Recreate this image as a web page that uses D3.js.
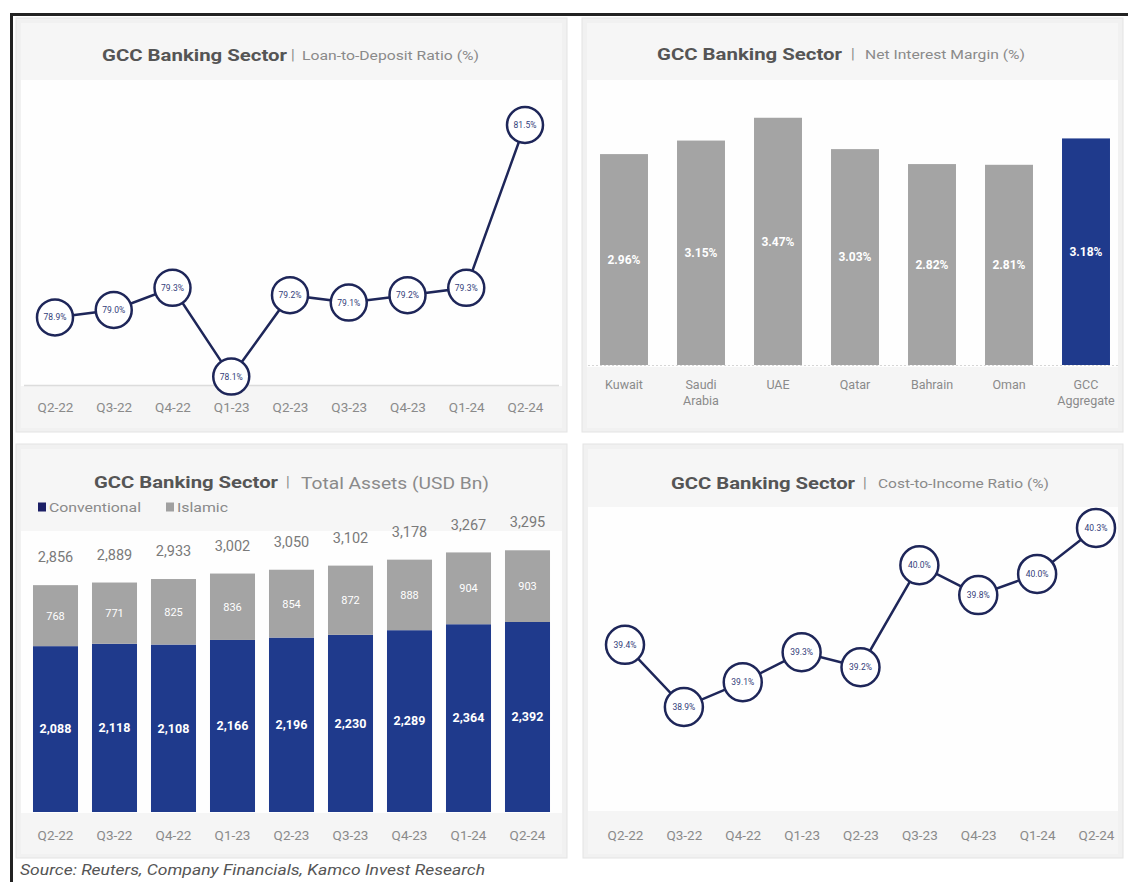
<!DOCTYPE html>
<html>
<head>
<meta charset="utf-8">
<script src="https://cdn.jsdelivr.net/npm/d3@7"></script>
<style>
  html, body { margin: 0; padding: 0; background: #fff; }
  svg { display: block; }
  text { font-family: Roboto, "Open Sans", sans-serif; }
</style>
</head>
<body>
<svg id="chart" width="1128" height="882"></svg>
<script>
// ---------------- DATA ----------------
const quarters = ["Q2-22","Q3-22","Q4-22","Q1-23","Q2-23","Q3-23","Q4-23","Q1-24","Q2-24"];
const loanToDeposit = [78.9, 79.0, 79.3, 78.1, 79.2, 79.1, 79.2, 79.3, 81.5];
const nimCountries = ["Kuwait","Saudi Arabia","UAE","Qatar","Bahrain","Oman","GCC Aggregate"];
const nimValues = [2.96, 3.15, 3.47, 3.03, 2.82, 2.81, 3.18];
const conventional = [2088, 2118, 2108, 2166, 2196, 2230, 2289, 2364, 2392];
const islamic = [768, 771, 825, 836, 854, 872, 888, 904, 903];
const totalAssets = [2856, 2889, 2933, 3002, 3050, 3102, 3178, 3267, 3295];
const costToIncome = [39.40, 38.90, 39.10, 39.34, 39.22, 40.04, 39.80, 39.97, 40.34];

const titleMain = "GCC Banking Sector";
const subtitles = ["Loan-to-Deposit Ratio (%)", "Net Interest Margin (%)", "Total Assets (USD Bn)", "Cost-to-Income Ratio (%)"];
const legendLabels = ["Conventional", "Islamic"];
const sourceText = "Source: Reuters, Company Financials, Kamco Invest Research";

// ---------------- STYLE ----------------
const NAVY_LINE = "#1e2659";
const NAVY_TEXT = "#33407a";
const BLUE_BAR = "#1f3a8c";
const GREY_BAR = "#a4a4a4";
const AXIS_TEXT = "#8a8a8a";

const svg = d3.select("#chart");

// outer frame (top & left visible)
svg.append("rect").attr("x", 11.5).attr("y", 14.5).attr("width", 1300).attr("height", 1000)
  .attr("fill", "none").attr("stroke", "#222").attr("stroke-width", 3);

function panel(p) {
  const g = svg.append("g");
  g.append("rect").attr("x", p.x).attr("y", p.y).attr("width", p.w).attr("height", p.h)
    .attr("fill", "#f1f1f1").attr("stroke", "#e3e3e3");
  // title band
  g.append("rect").attr("x", p.x + 5).attr("y", p.y + 5).attr("width", p.w - 10).attr("height", p.plotTop - p.y - 5)
    .attr("fill", "#f6f6f6");
  // plot area
  g.append("rect").attr("x", p.x + 5).attr("y", p.plotTop).attr("width", p.w - 10).attr("height", p.plotBottom - p.plotTop)
    .attr("fill", "#fefefe");
  // label band
  g.append("rect").attr("x", p.x + 5).attr("y", p.plotBottom).attr("width", p.w - 10).attr("height", p.y + p.h - 4 - p.plotBottom)
    .attr("fill", "#f5f5f5");
  return g;
}

function title(g, cx, cy, sub, subSize, mainW, subW) {
  const t = g.append("text").attr("y", cy).attr("dominant-baseline", "central");
  t.append("tspan").attr("x", cx.main).attr("font-weight", 700).attr("font-size", 16.5).attr("fill", "#555")
    .attr("textLength", mainW).attr("lengthAdjust", "spacingAndGlyphs").text(titleMain);
  g.append("text").attr("x", cx.bar).attr("y", cy).attr("dominant-baseline", "central")
    .attr("font-size", 15).attr("fill", "#888").text("|");
  g.append("text").attr("x", cx.sub).attr("y", cy + 1).attr("dominant-baseline", "central")
    .attr("font-size", subSize).attr("fill", "#8a8a8a")
    .attr("textLength", subW).attr("lengthAdjust", "spacingAndGlyphs").text(sub);
}

function styleAxis(axisG, size) {
  axisG.select(".domain").remove();
  axisG.selectAll("text").attr("font-size", size).attr("fill", AXIS_TEXT)
    .attr("font-family", "Roboto, sans-serif");
}

// ---------------- PANEL 1: Loan-to-Deposit ----------------
{
  const p = {x: 16, y: 18, w: 551, h: 414, plotTop: 80, plotBottom: 386};
  const g = panel(p);
  title(g, {main: 102, bar: 291, sub: 302}, 55, subtitles[0], 12, 185, 177);
  const x = d3.scalePoint().domain(quarters).range([55, 525]);
  const y = d3.scaleLinear().domain([78, 82]).range([384, 88]);
  g.append("line").attr("x1", p.x + 8).attr("x2", p.x + p.w - 8).attr("y1", 385.5).attr("y2", 385.5)
    .attr("stroke", "#dcdcdc").attr("stroke-width", 1.5);
  const ax = g.append("g").attr("transform", "translate(0,407)")
    .call(d3.axisBottom(x).tickSize(0).tickPadding(0));
  styleAxis(ax, 13.5);
  ax.selectAll("text").attr("dy", "0.35em");
  const line = d3.line().x((d, i) => x(quarters[i])).y(d => y(d));
  g.append("path").datum(loanToDeposit).attr("d", line).attr("fill", "none")
    .attr("stroke", NAVY_LINE).attr("stroke-width", 2.5);
  const pts = g.selectAll(".pt").data(loanToDeposit).enter().append("g")
    .attr("transform", (d, i) => `translate(${x(quarters[i])},${y(d)})`);
  pts.append("circle").attr("r", 18).attr("fill", "#fff").attr("stroke", NAVY_LINE).attr("stroke-width", 2.5);
  pts.append("text").attr("text-anchor", "middle").attr("dy", "0.35em").attr("font-size", 8.5)
    .attr("fill", NAVY_TEXT).text(d => d.toFixed(1) + "%");
}

// ---------------- PANEL 2: Net Interest Margin ----------------
{
  const p = {x: 582, y: 18, w: 541, h: 414, plotTop: 80, plotBottom: 367};
  const g = panel(p);
  title(g, {main: 657, bar: 851, sub: 865}, 54, subtitles[1], 12, 185, 160);
  const x = d3.scaleBand().domain(nimCountries).range([585.5, 1124.5]).paddingInner(0.377).paddingOuter(0.1885);
  const y = d3.scaleLinear().domain([0, 4]).range([365, 80]);
  g.append("line").attr("x1", p.x + 6).attr("x2", p.x + p.w - 4).attr("y1", 365.5).attr("y2", 365.5)
    .attr("stroke", "#d6d6d6").attr("stroke-dasharray", "2,2");
  g.selectAll(".bar").data(nimValues).enter().append("rect")
    .attr("x", (d, i) => x(nimCountries[i])).attr("width", x.bandwidth())
    .attr("y", d => y(d)).attr("height", d => y(0) - y(d))
    .attr("fill", (d, i) => i === nimCountries.length - 1 ? BLUE_BAR : GREY_BAR);
  g.selectAll(".lbl").data(nimValues).enter().append("text")
    .attr("x", (d, i) => x(nimCountries[i]) + x.bandwidth() / 2)
    .attr("y", d => (y(d) + y(0)) / 2).attr("dy", "0.35em")
    .attr("text-anchor", "middle").attr("font-size", 12).attr("font-weight", 700)
    .attr("fill", "#fff").text(d => d.toFixed(2) + "%");
  const ax = g.append("g").attr("transform", "translate(0,380)")
    .call(d3.axisBottom(x).tickSize(0).tickPadding(0));
  styleAxis(ax, 12.5);
  ax.selectAll("text").each(function(d) {
    const t = d3.select(this);
    const words = d.split(" ");
    t.text(null);
    words.forEach((w, i) => {
      t.append("tspan").attr("x", 0).attr("dy", i === 0 ? "0.71em" : "1.3em").text(w);
    });
    t.attr("dy", null);
  });
}

// ---------------- PANEL 3: Total Assets ----------------
{
  const p = {x: 16, y: 444, w: 551, h: 414, plotTop: 531, plotBottom: 813};
  const g = panel(p);
  title(g, {main: 94, bar: 286, sub: 301}, 482, subtitles[2], 17, 184, 188);
  // legend
  const lg = g.append("g").attr("transform", "translate(38,507)");
  lg.append("rect").attr("x", 0).attr("y", -4.5).attr("width", 8).attr("height", 9).attr("fill", "#1c1f66");
  lg.append("text").attr("x", 11).attr("dy", "0.35em").attr("font-size", 13).attr("fill", "#8a8a8a")
    .attr("textLength", 92).attr("lengthAdjust", "spacingAndGlyphs").text(legendLabels[0]);
  lg.append("rect").attr("x", 128).attr("y", -4.5).attr("width", 8).attr("height", 9).attr("fill", "#a0a0a0");
  lg.append("text").attr("x", 139).attr("dy", "0.35em").attr("font-size", 13).attr("fill", "#8a8a8a")
    .attr("textLength", 51).attr("lengthAdjust", "spacingAndGlyphs").text(legendLabels[1]);

  const x = d3.scaleBand().domain(quarters).range([26, 557]).paddingInner(0.237).paddingOuter(0.1185);
  const y = d3.scaleLinear().domain([0, 3500]).range([812, 534]);
  const bw = x.bandwidth();
  g.selectAll(".conv").data(conventional).enter().append("rect")
    .attr("x", (d, i) => x(quarters[i])).attr("width", bw)
    .attr("y", d => y(d)).attr("height", d => y(0) - y(d)).attr("fill", BLUE_BAR);
  g.selectAll(".isl").data(islamic).enter().append("rect")
    .attr("x", (d, i) => x(quarters[i])).attr("width", bw)
    .attr("y", (d, i) => y(conventional[i] + d)).attr("height", (d, i) => y(conventional[i]) - y(conventional[i] + d))
    .attr("fill", GREY_BAR);
  g.selectAll(".convl").data(conventional).enter().append("text")
    .attr("x", (d, i) => x(quarters[i]) + bw / 2).attr("y", d => (y(0) + y(d)) / 2).attr("dy", "0.35em")
    .attr("text-anchor", "middle").attr("font-size", 12.5).attr("font-weight", 700).attr("fill", "#fff")
    .text(d => d3.format(",")(d));
  g.selectAll(".isll").data(islamic).enter().append("text")
    .attr("x", (d, i) => x(quarters[i]) + bw / 2)
    .attr("y", (d, i) => (y(conventional[i]) + y(conventional[i] + d)) / 2).attr("dy", "0.35em")
    .attr("text-anchor", "middle").attr("font-size", 11).attr("fill", "#fff")
    .text(d => d3.format(",")(d));
  g.selectAll(".tot").data(totalAssets).enter().append("text")
    .attr("x", (d, i) => x(quarters[i]) + bw / 2)
    .attr("y", (d, i) => y(conventional[i] + islamic[i]) - 28).attr("dy", "0.35em")
    .attr("text-anchor", "middle").attr("font-size", 14.5).attr("fill", "#7a7a7a")
    .text(d => d3.format(",")(d));
  const ax = g.append("g").attr("transform", "translate(0,835)")
    .call(d3.axisBottom(x).tickSize(0).tickPadding(0));
  styleAxis(ax, 13.5);
  ax.selectAll("text").attr("dy", "0.35em");
}

// ---------------- PANEL 4: Cost-to-Income ----------------
{
  const p = {x: 583, y: 444, w: 540, h: 414, plotTop: 507, plotBottom: 811};
  const g = panel(p);
  title(g, {main: 671, bar: 863, sub: 878}, 483, subtitles[3], 12, 184, 171);
  const x = d3.scalePoint().domain(quarters).range([625, 1096]);
  const y = d3.scaleLinear().domain([38, 40.5]).range([819, 508]);
  const ax = g.append("g").attr("transform", "translate(0,835)")
    .call(d3.axisBottom(x).tickSize(0).tickPadding(0));
  styleAxis(ax, 13.5);
  ax.selectAll("text").attr("dy", "0.35em");
  const line = d3.line().x((d, i) => x(quarters[i])).y(d => y(d));
  g.append("path").datum(costToIncome).attr("d", line).attr("fill", "none")
    .attr("stroke", NAVY_LINE).attr("stroke-width", 2.5);
  const pts = g.selectAll(".pt").data(costToIncome).enter().append("g")
    .attr("transform", (d, i) => `translate(${x(quarters[i])},${y(d)})`);
  pts.append("circle").attr("r", 19).attr("fill", "#fff").attr("stroke", NAVY_LINE).attr("stroke-width", 2.5);
  pts.append("text").attr("text-anchor", "middle").attr("dy", "0.35em").attr("font-size", 8.5)
    .attr("fill", NAVY_TEXT).text(d => d.toFixed(1) + "%");
}

// source
svg.append("text").attr("x", 20).attr("y", 870).attr("dy", "0.35em")
  .attr("font-size", 14.5).attr("font-style", "italic").attr("fill", "#555")
  .attr("textLength", 465).attr("lengthAdjust", "spacingAndGlyphs").text(sourceText);
</script>
</body>
</html>
